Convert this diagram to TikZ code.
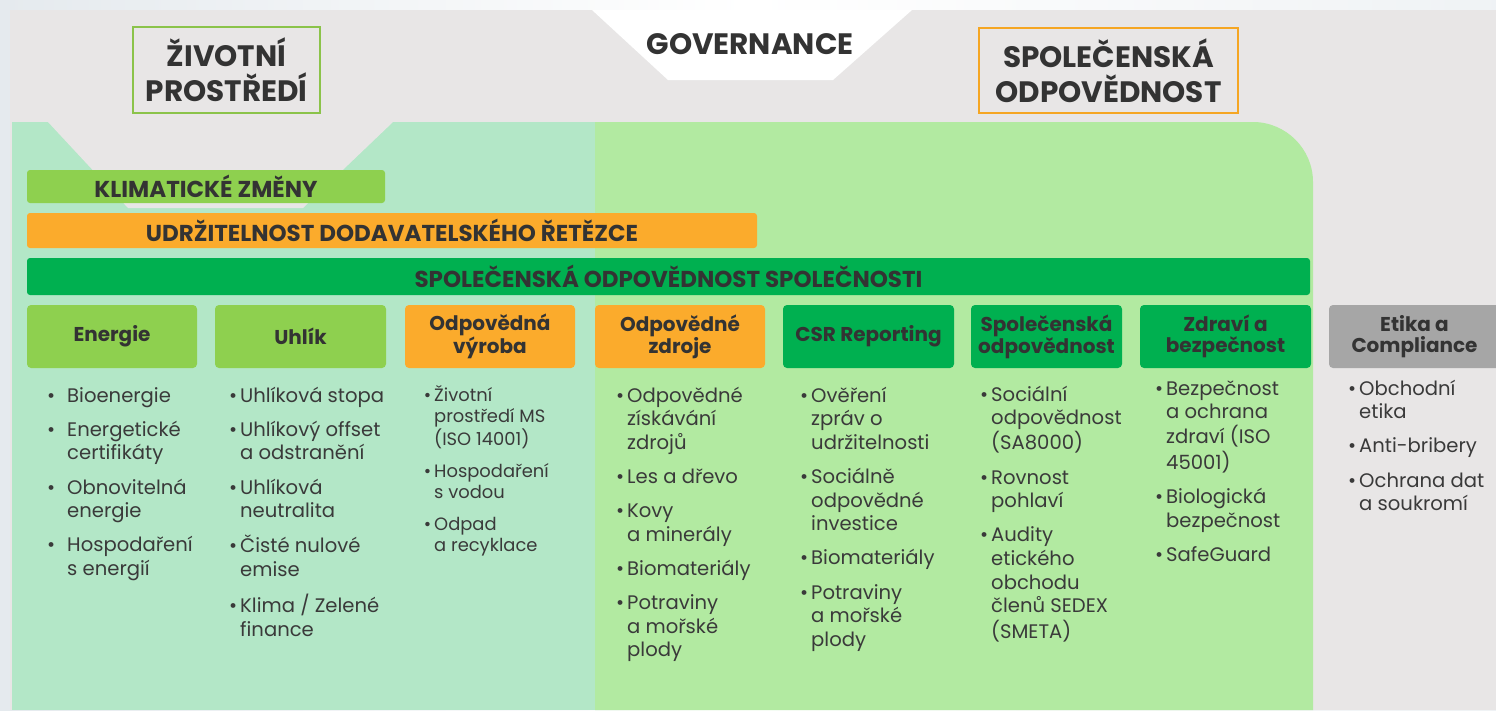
\documentclass[tikz,border=0pt]{standalone}
\usepackage{fontspec}
\setmainfont{Poppins}
\newfontfamily\popc{Poppins}
\definecolor{outerbg}{HTML}{E5EAEE}
\definecolor{graybg}{HTML}{E8E6E6}
\definecolor{lgreen}{HTML}{B3E7C7}
\definecolor{rgreen}{HTML}{B2EAA1}
\definecolor{yg}{HTML}{8ED04F}
\definecolor{orng}{HTML}{FBAB2C}
\definecolor{dgreen}{HTML}{00B050}
\definecolor{gbox}{HTML}{A6A6A6}
\definecolor{txt}{HTML}{333333}
\definecolor{btxt}{HTML}{3A3A3A}
\definecolor{zborder}{HTML}{8BC34A}
\definecolor{oborder}{HTML}{F5A623}
\newcommand\ig{10.6pt}
\newcommand\mybul[1]{\llap{\textbullet\hspace{#1}}}
\newcommand\bn{\mybul{3pt}}
\newcommand\bw{\mybul{12pt}}
\tikzset{
  ttlbox/.style={draw=#1, line width=1.5pt, inner sep=0pt, align=center, text=txt,
    font=\popc\bfseries\fontsize{29.5}{35}\selectfont},
  barbox/.style={fill=#1, rounded corners=3pt, inner sep=0pt, text=txt,
    font=\popc\bfseries\fontsize{23}{26}\selectfont},
  catbox/.style={fill=#1, rounded corners=4pt, inner sep=0pt, minimum height=63pt, align=center, text=txt,
    font=\popc\bfseries\fontsize{20}{21}\selectfont},
  bcol/.style={anchor=base west, inner sep=0pt, text=btxt, font=\fontsize{19.6}{23.6}\selectfont},
}
\begin{document}
\begin{tikzpicture}[x=1pt,y=-1pt]
\useasboundingbox (0,0) rectangle (1496,710);
% backgrounds
\shade[left color=outerbg, right color=outerbg!60!white, middle color=white] (0,0) rectangle (1496,710);
\fill[graybg] (10,10) rectangle (1496,710);
\fill[white] (592,10) -- (912,10) -- (833,80) -- (668,80) -- cycle;
\fill[lgreen] (12,122) rectangle (595,710);
\fill[graybg] (48,122) -- (393,122) -- (303,208) -- (128,208) -- cycle;
\fill[rgreen] (595,710) -- (595,122) -- (1253,122) .. controls (1286,122) and (1313,149) .. (1313,182) -- (1313,710) -- cycle;

% titles
\node[ttlbox=zborder, minimum width=187pt, minimum height=86pt] (zp) at (226.5,70) {ŽIVOTNÍ\\PROSTŘEDÍ};
\node[ttlbox=oborder, minimum width=259pt, minimum height=85pt] (so) at (1108.5,70.5) {SPOLEČENSKÁ\\ODPOVĚDNOST};
\node[inner sep=0pt, text=txt, font=\bfseries\fontsize{29.5}{31}\selectfont] (gov) at (750,44) {GOVERNANCE};

% bars
\node[barbox=yg, minimum width=358pt, minimum height=33pt] (klim) at (206,186.5) {KLIMATICKÉ ZMĚNY};
\node[barbox=orng, minimum width=730pt, minimum height=35pt] (udr) at (392,230.5) {UDRŽITELNOST DODAVATELSKÉHO ŘETĚZCE};
\node[barbox=dgreen, minimum width=1283pt, minimum height=37pt] (sos) at (668.5,276.5) {SPOLEČENSKÁ ODPOVĚDNOST SPOLEČNOSTI};

% category boxes
\node[catbox=yg, minimum width=170pt] (en) at (112,336.5) {Energie};
\node[catbox=yg, minimum width=171pt] (uh) at (300.5,336.5) {Uhlík};
\node[catbox=orng, minimum width=170pt] (vy) at (490,336.5) {Odpovědná\\výroba};
\node[catbox=orng, minimum width=170pt] (zd) at (680,336.5) {Odpovědné\\zdroje};
\node[catbox=dgreen, minimum width=171pt] (csr) at (868.5,336.5) {CSR Reporting};
\node[catbox=dgreen, minimum width=151pt] (sp) at (1046.5,336.5) {Společenská\\odpovědnost};
\node[catbox=dgreen, minimum width=171pt] (zb) at (1225.5,336.5) {Zdraví a\\bezpečnost};
\node[catbox=gbox, minimum width=171pt] (et) at (1414.5,336.5) {Etika a\\Compliance};

% bullet columns
\node[bcol] (c1) at (67,402) {\begin{tabular}[t]{@{}l@{}}
\bw Bioenergie\\[\ig]
\bw Energetické\\ certifikáty\\[\ig]
\bw Obnovitelná\\ energie\\[\ig]
\bw Hospodaření\\ s energií
\end{tabular}};
\node[bcol] (c2) at (240,402) {\begin{tabular}[t]{@{}l@{}}
\bn Uhlíková stopa\\[\ig]
\bn Uhlíkový offset\\ a odstranění\\[\ig]
\bn Uhlíková\\ neutralita\\[\ig]
\bn Čisté nulové\\ emise\\[\ig]
\bn Klima / Zelené\\ finance
\end{tabular}};
\node[bcol, font=\fontsize{17.9}{21.2}\selectfont] (c3) at (434,401) {\begin{tabular}[t]{@{}l@{}}
\bn Životní\\ prostředí MS\\ (ISO 14001)\\[\ig]
\bn Hospodaření\\ s vodou\\[\ig]
\bn Odpad\\ a recyklace
\end{tabular}};
\node[bcol] (c4) at (627,402) {\begin{tabular}[t]{@{}l@{}}
\bn Odpovědné\\ získávání\\ zdrojů\\[\ig]
\bn Les a dřevo\\[\ig]
\bn Kovy\\ a minerály\\[\ig]
\bn Biomateriály\\[\ig]
\bn Potraviny\\ a mořské\\ plody
\end{tabular}};
\node[bcol] (c5) at (811,402) {\begin{tabular}[t]{@{}l@{}}
\bn Ověření\\ zpráv o\\ udržitelnosti\\[\ig]
\bn Sociálně\\ odpovědné\\ investice\\[\ig]
\bn Biomateriály\\[\ig]
\bn Potraviny\\ a mořské\\ plody
\end{tabular}};
\node[bcol] (c6) at (991,401) {\begin{tabular}[t]{@{}l@{}}
\bn Sociální\\ odpovědnost\\ (SA8000)\\[\ig]
\bn Rovnost\\ pohlaví\\[\ig]
\bn Audity\\ etického\\ obchodu\\ členů SEDEX\\ (SMETA)
\end{tabular}};
\node[bcol] (c7) at (1166,395) {\begin{tabular}[t]{@{}l@{}}
\bn Bezpečnost\\ a ochrana\\ zdraví (ISO\\ 45001)\\[\ig]
\bn Biologická\\ bezpečnost\\[\ig]
\bn SafeGuard
\end{tabular}};
\node[bcol] (c8) at (1359,395) {\begin{tabular}[t]{@{}l@{}}
\bn Obchodní\\ etika\\[\ig]
\bn Anti-bribery\\[\ig]
\bn Ochrana dat\\ a soukromí
\end{tabular}};
\end{tikzpicture}
\end{document}
